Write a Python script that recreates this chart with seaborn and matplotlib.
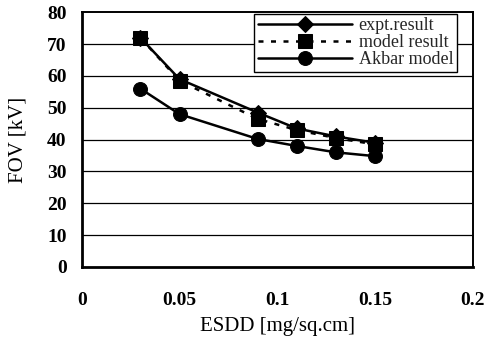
import numpy as np
import pandas as pd
import seaborn as sns
import matplotlib
matplotlib.use("Agg")
import matplotlib.pyplot as plt

# --> data
esdd = [0.03, 0.05, 0.09, 0.11, 0.13, 0.15]
expt_result = [72.0, 59.0, 48.5, 43.5, 41.0, 39.0]
model_result = [72.0, 58.5, 46.5, 43.0, 40.5, 38.5]
akbar_model = [56.0, 48.0, 40.2, 38.0, 36.0, 34.8]

x_ticks = [0, 0.05, 0.1, 0.15, 0.2]
x_tick_labels = ["0", "0.05", "0.1", "0.15", "0.2"]
y_ticks = [0, 10, 20, 30, 40, 50, 60, 70, 80]

#--> plot style
sns.set_theme(style="white")
plt.rcParams['font.family'] = ['Liberation Serif', 'DejaVu Serif']

fig, ax = plt.subplots(figsize=(4.9, 3.43), dpi=100)
fig.subplots_adjust(left=0.167, right=0.9645, top=0.964, bottom=0.222)

# horizontal grid lines
for y in y_ticks[1:-1]:
    ax.axhline(y, color="black", lw=0.9, zorder=0)

sns.lineplot(x=esdd, y=expt_result, ax=ax, color="black", lw=1.8,
             marker="D", markersize=8, markeredgecolor="black",
             label="expt.result", zorder=3)
sns.lineplot(x=esdd, y=model_result, ax=ax, color="black", lw=1.8,
             linestyle=(0, (2, 3)), marker="s", markersize=10,
             markeredgecolor="black", label="model result", zorder=4)
sns.lineplot(x=esdd, y=akbar_model, ax=ax, color="black", lw=1.8,
             marker="o", markersize=10, markeredgecolor="black",
             label="Akbar model", zorder=5)

ax.set_xlim(0, 0.2)
ax.set_ylim(0, 80)
ax.set_xticks(x_ticks)
ax.set_xticklabels(x_tick_labels)
ax.set_yticks(y_ticks)
ax.tick_params(axis="both", which="major", direction="out", length=4,
               width=1.2, color="black", labelcolor="black")
ax.tick_params(axis="x", pad=14, labelsize=14)
ax.tick_params(axis="y", pad=7, labelsize=14)
for lab in ax.get_xticklabels() + ax.get_yticklabels():
    lab.set_fontweight("bold")

for side in ["left", "bottom"]:
    ax.spines[side].set_linewidth(2.0)
    ax.spines[side].set_color("black")
for side in ["top", "right"]:
    ax.spines[side].set_linewidth(1.4)
    ax.spines[side].set_color("black")

ax.set_xlabel("ESDD [mg/sq.cm]", fontsize=15, color="black", labelpad=6)
ax.set_ylabel("FOV [kV]", fontsize=15, color="black", labelpad=14)

leg = ax.legend(loc="upper right", bbox_to_anchor=(0.96, 0.995), fontsize=13,
                frameon=True, fancybox=False, edgecolor="black",
                handlelength=5.2, handletextpad=0.4, labelspacing=0.0,
                borderpad=0.2, borderaxespad=0.0)
leg.get_frame().set_linewidth(1.0)
leg.get_frame().set_alpha(1)

fig.savefig("out.png", dpi=100)
